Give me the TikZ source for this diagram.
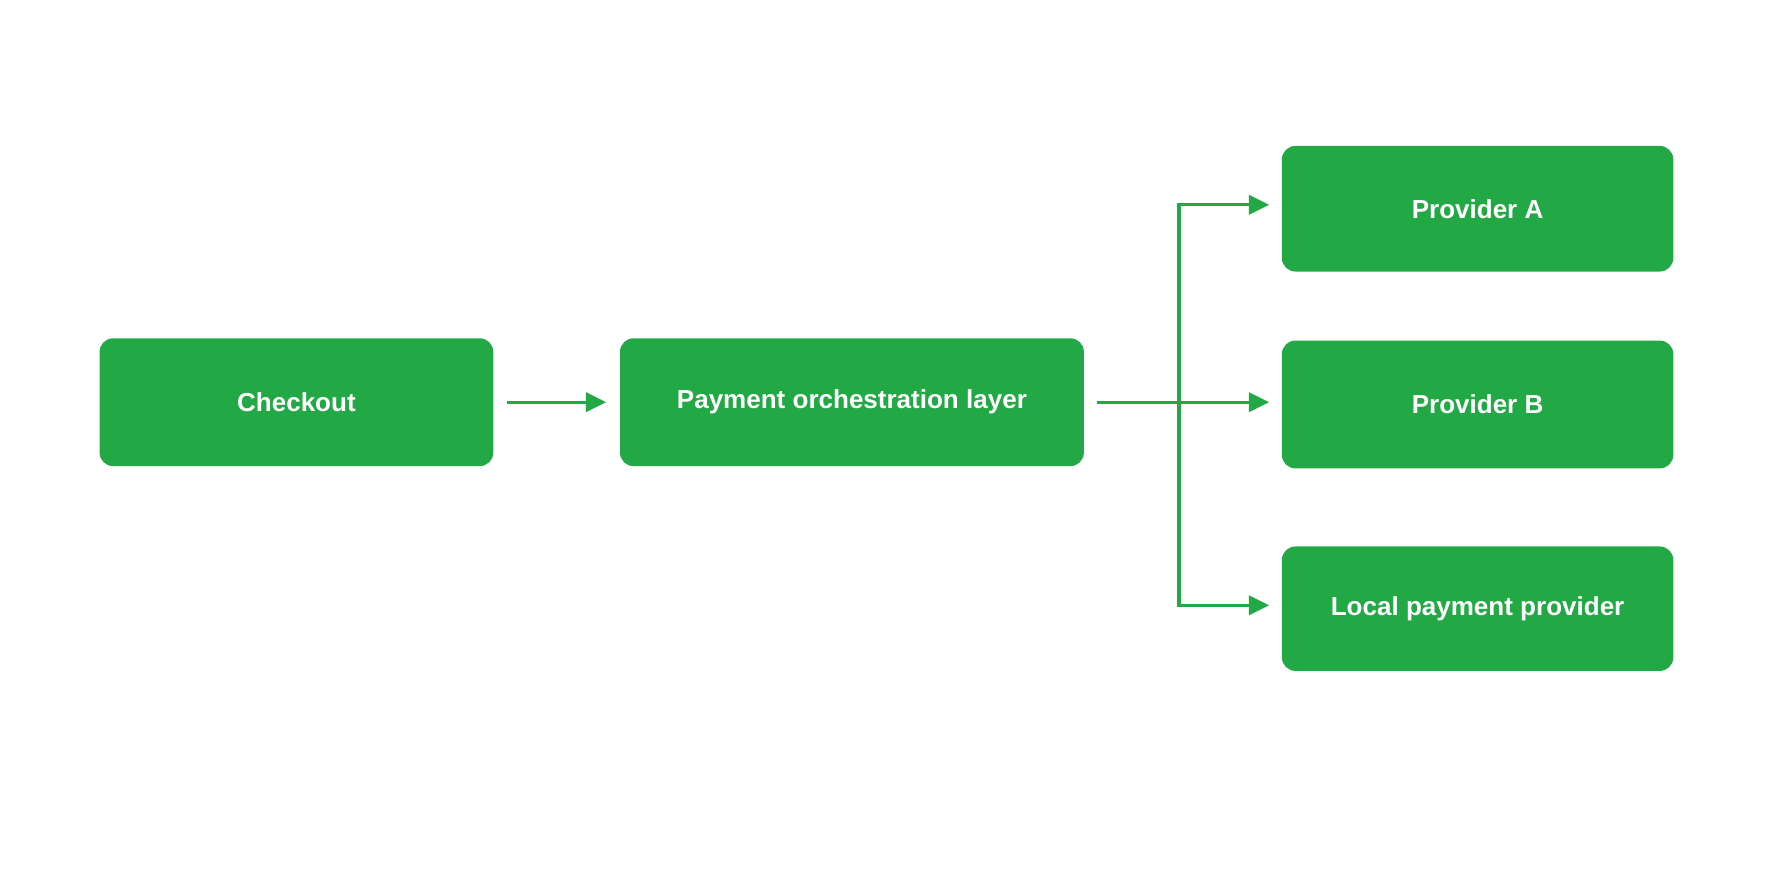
\documentclass[tikz,border=0pt]{standalone}
\usepackage{fontspec}
\setmainfont{Liberation Sans}
\usetikzlibrary{arrows.meta}
\definecolor{grn}{HTML}{22A845}
\begin{document}
\begin{tikzpicture}[x=1pt,y=-1pt,
 box/.style={fill=grn,draw=none,rounded corners=12pt,text=white,font=\bfseries\fontsize{23}{27}\selectfont},
 arr/.style={draw=grn,line width=3pt,-{Triangle[length=18pt,width=17pt]}}]
\useasboundingbox[fill=white] (0,0) rectangle (1568,784);
\node[box,minimum width=348pt,minimum height=113pt] (co) at (262,355.5) {Checkout};
\node[box,minimum width=410pt,minimum height=113pt] (po) at (753,355.5) {Payment orchestration layer};
\node[box,minimum width=346pt,minimum height=111pt] (pa) at (1306,184.5) {Provider A};
\node[box,minimum width=346pt,minimum height=113pt] (pb) at (1306,357.5) {Provider B};
\node[box,minimum width=346pt,minimum height=110pt] (lp) at (1306,538) {Local payment provider};
\coordinate (j) at (1042,355);
\draw[arr] ([xshift=12pt]co.east) -- ([xshift=-12pt]po.west |- co.east);
\draw[arr] ([xshift=11pt]po.east) -- ([xshift=-11pt]pb.west |- po.east);
\draw[arr] (j) -- (j |- 0,181) -- ([xshift=-11pt]pa.west |- 0,181);
\draw[arr] (j) -- (j |- 0,535) -- ([xshift=-11pt]lp.west |- 0,535);
\end{tikzpicture}
\end{document}
